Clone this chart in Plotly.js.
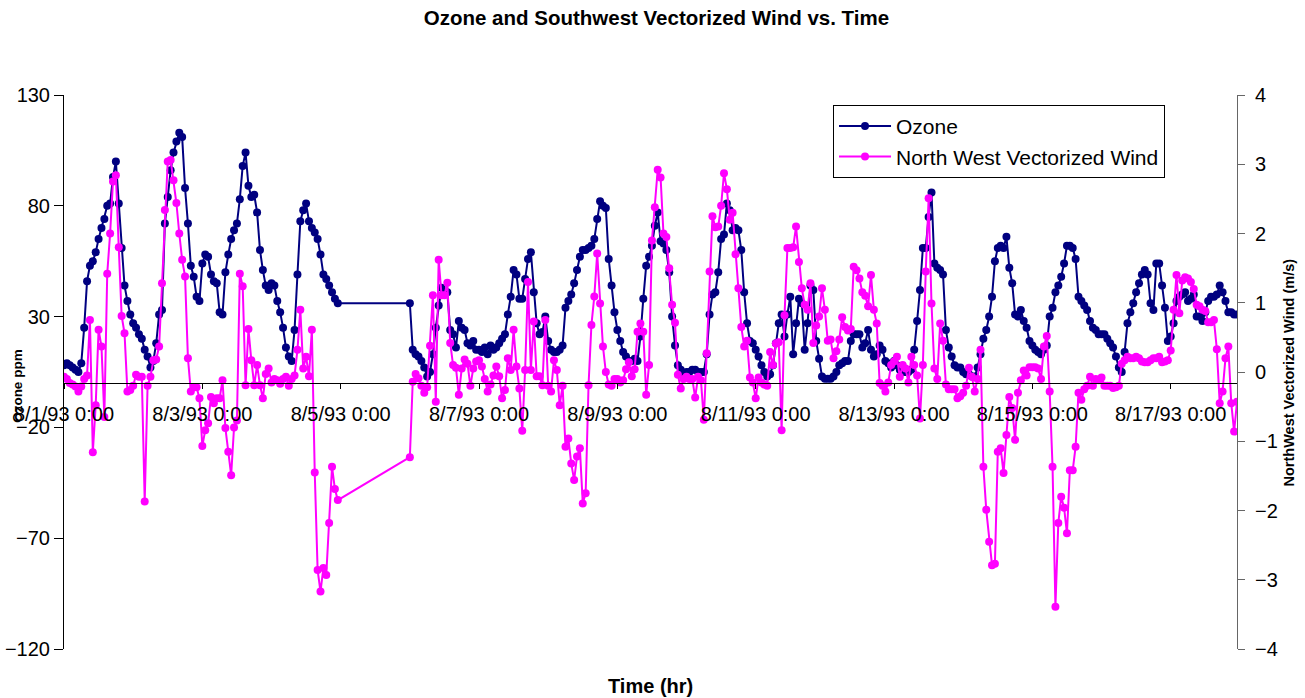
<!DOCTYPE html>
<html>
<head>
<meta charset="utf-8">
<script src="https://cdn.plot.ly/plotly-3.0.1.min.js"></script>
<style>html,body{margin:0;padding:0;background:#fff;}#chart{width:1305px;height:698px;}</style>
</head>
<body>
<div id="chart"></div>
<script>
// Hourly readings. Block 1: 8/1/93 0:00 - 8/4/93 23:00 ; Block 2: 8/6/93 0:00 - 8/17/93 23:00
const block1Start = '1993-08-01T00:00:00Z';
const block2Start = '1993-08-06T00:00:00Z';

const ozoneBlock1 = [
  8,9,8,7,6,5,9,25,46,53,55,59,65,70,74,80,81,93,100,81,61,44,37,31,
  27,25,22,20,15,12,7,10,18,31,33,72,84,96,104,109,113,111,88,72,53,48,39,37,
  54,58,57,49,46,45,32,31,50,58,65,69,72,83,98,104,89,84,85,77,60,51,44,42,
  45,44,37,32,25,16,12,10,24,49,73,78,81,73,70,68,65,58,49,47,44,41,38,36
];
const ozoneBlock2 = [
  36,15,13,12,10,7,3,5,13,25,35,43,41,41,24,22,16,28,25,24,18,17,19,15,
  15,14,16,13,17,15,16,18,20,22,31,39,51,49,38,38,47,56,59,41,27,22,23,30,
  19,15,14,14,15,17,34,37,40,45,51,57,60,60,61,62,65,74,82,80,79,56,44,32,
  24,19,14,12,10,10,11,10,21,38,53,57,62,71,77,64,63,60,50,30,17,8,6,4,
  5,5,6,6,5,5,5,13,31,40,41,50,65,67,81,78,69,70,69,60,41,27,19,18,
  15,12,8,5,3,4,8,18,27,31,21,31,39,13,27,38,36,15,27,44,42,19,11,3,
  2,2,2,3,5,8,9,10,10,19,22,22,22,16,18,24,15,12,13,17,15,10,9,7,
  10,8,6,5,5,5,6,15,28,42,61,61,75,86,54,52,51,49,24,16,12,8,7,7,
  5,4,4,3,3,7,13,20,24,30,39,55,61,62,61,66,52,45,31,30,33,28,25,19,
  17,15,14,13,15,17,30,34,41,44,48,54,62,62,61,56,39,37,35,33,28,25,24,22,
  22,22,20,18,16,12,7,5,14,27,32,36,41,45,49,51,49,36,33,54,54,44,34,19,
  21,27,37,39,40,41,37,38,40,30,30,28,32,37,39,39,40,44,41,37,32,32,31,31
];
const windBlock1 = [
  -0.07,-0.1,-0.16,-0.18,-0.21,-0.28,-0.21,-0.1,-0.05,0.75,-1.16,-0.48,0.61,0.37,-0.65,1.42,2.0,2.75,2.84,1.8,0.81,0.56,-0.28,-0.26,
  -0.2,-0.04,-0.07,-0.07,-1.87,-0.2,-0.07,0.17,0.18,0.37,1.28,2.34,3.04,3.06,2.77,2.44,2.0,1.62,1.38,0.2,-0.28,-0.22,-0.22,-0.38,
  -1.07,-0.84,-0.74,-0.36,-0.45,-0.38,-0.38,-0.12,-0.81,-1.15,-1.49,-0.8,-0.7,1.42,1.24,-0.19,0.62,0.17,-0.19,0.1,-0.19,-0.38,-0.03,0.05,
  -0.15,-0.1,-0.12,-0.17,-0.1,-0.07,-0.2,-0.1,-0.05,0.32,0.9,0.05,0.22,-0.06,0.61,-1.45,-2.86,-3.17,-2.83,-2.93,-2.18,-1.37,-1.69,-1.85
];
const windBlock2 = [
  -1.23,-0.14,-0.03,-0.09,-0.2,-0.3,-0.22,0.38,1.11,-0.43,1.62,1.11,1.11,1.29,0.42,0.1,0.06,-0.33,0.05,0.18,0.12,-0.2,0.05,0.15,
  0.17,0.08,-0.1,-0.28,-0.18,-0.05,0.08,-0.06,-0.38,-0.26,0.2,0.03,0.61,0.08,-0.24,-0.85,0.03,1.3,0.03,0.73,-0.06,-0.06,-0.19,0.75,
  -0.2,-0.28,0.17,0.03,-0.48,-0.2,-1.08,-0.96,-1.32,-1.56,-1.22,-1.1,-1.9,-1.75,-0.19,0.68,1.09,1.71,0.99,0.37,0.0,-0.18,-0.2,-0.1,
  -0.1,-0.15,-0.12,0.04,0.14,-0.06,0.04,0.58,0.7,0.58,-0.33,0.1,1.9,2.38,2.92,2.81,2.0,1.95,1.5,0.97,0.71,-0.04,-0.24,-0.1,
  -0.07,-0.1,-0.1,-0.37,-0.07,-0.12,-0.69,0.27,1.45,2.25,2.09,2.1,2.4,2.87,2.64,2.2,2.3,1.7,1.21,0.65,0.37,0.45,-0.08,-0.15,
  -0.38,-0.08,-0.15,-0.18,-0.2,0.29,0.1,0.41,0.43,-0.84,0.82,1.79,1.79,1.8,2.1,1.59,1.21,0.97,0.9,1.28,0.42,0.67,0.8,1.21,
  0.9,0.45,0.47,0.2,0.3,0.47,0.79,0.65,0.6,0.62,1.52,1.47,1.35,1.15,1.1,0.95,1.4,0.9,0.7,-0.16,-0.2,-0.28,-0.15,0.1,
  0.15,0.22,-0.07,0.1,0.05,-0.15,0.22,0.1,-0.05,-0.67,0.1,1.45,2.51,0.99,0.05,-0.1,0.7,0.45,-0.18,-0.25,-0.25,-0.25,-0.38,-0.35,
  -0.3,-0.2,0.06,-0.07,-0.28,-0.1,0.32,-1.37,-1.99,-2.45,-2.79,-2.77,-1.15,-1.1,-1.46,-0.91,-0.36,-0.52,-0.98,-0.3,-0.12,0.02,-0.05,0.07,
  0.07,0.07,0.05,-0.1,0.37,0.52,-0.28,-1.37,-3.39,-2.18,-1.8,-1.96,-2.33,-1.42,-1.42,-1.08,-0.3,-0.4,-0.25,-0.2,-0.07,-0.2,-0.1,-0.12,
  -0.08,-0.2,-0.2,-0.2,-0.23,-0.22,-0.2,0.12,0.17,0.22,0.2,0.2,0.22,0.2,0.15,0.14,0.14,0.17,0.2,0.2,0.22,0.14,0.15,0.17,
  0.31,0.9,1.4,0.85,1.32,1.37,1.35,1.3,1.2,0.97,0.95,0.9,0.88,0.72,0.72,0.75,0.33,-0.45,-0.28,0.2,0.37,-0.45,-0.86,-0.43
];

const tickDates = ['1993-08-01 00:00','1993-08-03 00:00','1993-08-05 00:00','1993-08-07 00:00','1993-08-09 00:00',
                   '1993-08-11 00:00','1993-08-13 00:00','1993-08-15 00:00','1993-08-17 00:00'];
const tickLabels = ['8/1/93 0:00','8/3/93 0:00','8/5/93 0:00','8/7/93 0:00','8/9/93 0:00',
                    '8/11/93 0:00','8/13/93 0:00','8/15/93 0:00','8/17/93 0:00'];
const ozoneTicks = [-120,-70,-20,30,80,130];
const windTicks = [-4,-3,-2,-1,0,1,2,3,4];

function hourlyStamps(startIso, n) {
  const t0 = Date.parse(startIso);
  return Array.from({length: n}, (_, i) => new Date(t0 + i * 3600000).toISOString().slice(0, 16).replace('T', ' '));
}
const times = hourlyStamps(block1Start, ozoneBlock1.length).concat(hourlyStamps(block2Start, ozoneBlock2.length));
const ozone = ozoneBlock1.concat(ozoneBlock2);
const wind = windBlock1.concat(windBlock2);

const yMin = ozoneTicks[0], yMax = ozoneTicks[ozoneTicks.length - 1];
const FONT = 'Liberation Sans, Arial, sans-serif';
const FS = 20;

const traces = [
  {x: times, y: ozone, name: 'Ozone', type: 'scatter', mode: 'lines+markers', legendgroup: 'a',
   line: {color: '#000080', width: 2}, marker: {color: '#000080', size: 8}},
  {x: times, y: wind, name: 'North West Vectorized Wind', type: 'scatter', mode: 'lines+markers', yaxis: 'y2', legendgroup: 'b',
   line: {color: '#FF00FF', width: 2}, marker: {color: '#FF00FF', size: 8}}
];

const layout = {
  width: 1305, height: 698,
  margin: {l: 64, r: 68, t: 95, b: 49},
  paper_bgcolor: '#fff', plot_bgcolor: '#fff',
  font: {family: FONT, color: '#000', size: FS},
  title: {text: '<b>Ozone and Southwest Vectorized Wind vs. Time</b>', font: {family: FONT, size: 20.5, color: '#000'},
          x: 0.503, xanchor: 'center', y: 0.974, yanchor: 'middle'},
  showlegend: true,
  legend: {x: 0.6556, y: 0.982, xanchor: 'left', yanchor: 'top', bgcolor: '#fff', bordercolor: '#000', borderwidth: 1,
           traceorder: 'grouped', tracegroupgap: 0, itemwidth: 52,
           font: {family: FONT, size: 21, color: '#000'}},
  xaxis: {type: 'date', range: [times[0], times[times.length - 1]], anchor: 'free',
          position: (0 - yMin) / (yMax - yMin),
          tickvals: tickDates, ticktext: tickLabels, ticks: 'outside', ticklen: 5, tickcolor: '#000',
          showline: true, linecolor: '#000', linewidth: 1, showgrid: false, zeroline: false,
          tickfont: {family: FONT, size: FS, color: '#000'}, ticklabelstandoff: 8},
  yaxis: {range: [yMin, yMax], tickvals: ozoneTicks, ticks: 'outside', ticklen: 9, tickcolor: '#000',
          showline: true, linecolor: '#000', linewidth: 1, showgrid: false, zeroline: false,
          tickfont: {family: FONT, size: FS, color: '#000'}},
  yaxis2: {range: [windTicks[0], windTicks[windTicks.length - 1]], tickvals: windTicks, overlaying: 'y', side: 'right',
           ticks: 'outside', ticklen: 7, tickcolor: '#666', showline: true, linecolor: '#666', linewidth: 1,
           showgrid: false, zeroline: false, tickfont: {family: FONT, size: FS, color: '#000'}, ticklabelstandoff: 6},
  yaxis3: {range: [windTicks[0], windTicks[windTicks.length - 1]], tickvals: windTicks, overlaying: 'y', side: 'right',
           ticks: 'inside', ticklen: 7, tickcolor: '#666', showline: false, showticklabels: false,
           showgrid: false, zeroline: false},
  annotations: [
    {text: '<b>Time (hr)</b>', xref: 'paper', yref: 'paper', x: 0.5, y: -0.067, xanchor: 'center', yanchor: 'middle',
     showarrow: false, font: {family: FONT, size: FS, color: '#000'}},
    {text: '<b>Ozone ppm</b>', xref: 'paper', yref: 'paper', x: -0.0392, y: 0.475, xanchor: 'center', yanchor: 'middle',
     textangle: -90, showarrow: false, font: {family: FONT, size: 13.5, color: '#000'}},
    {text: '<b>NorthWest Vectorized Wind (m/s)</b>', xref: 'paper', yref: 'paper', x: 1.0443, y: 0.499, xanchor: 'center', yanchor: 'middle',
     textangle: -90, showarrow: false, font: {family: FONT, size: 14.5, color: '#000'}}
  ]
};

Plotly.newPlot('chart', traces, layout, {displayModeBar: false, staticPlot: true});
</script>
</body>
</html>
